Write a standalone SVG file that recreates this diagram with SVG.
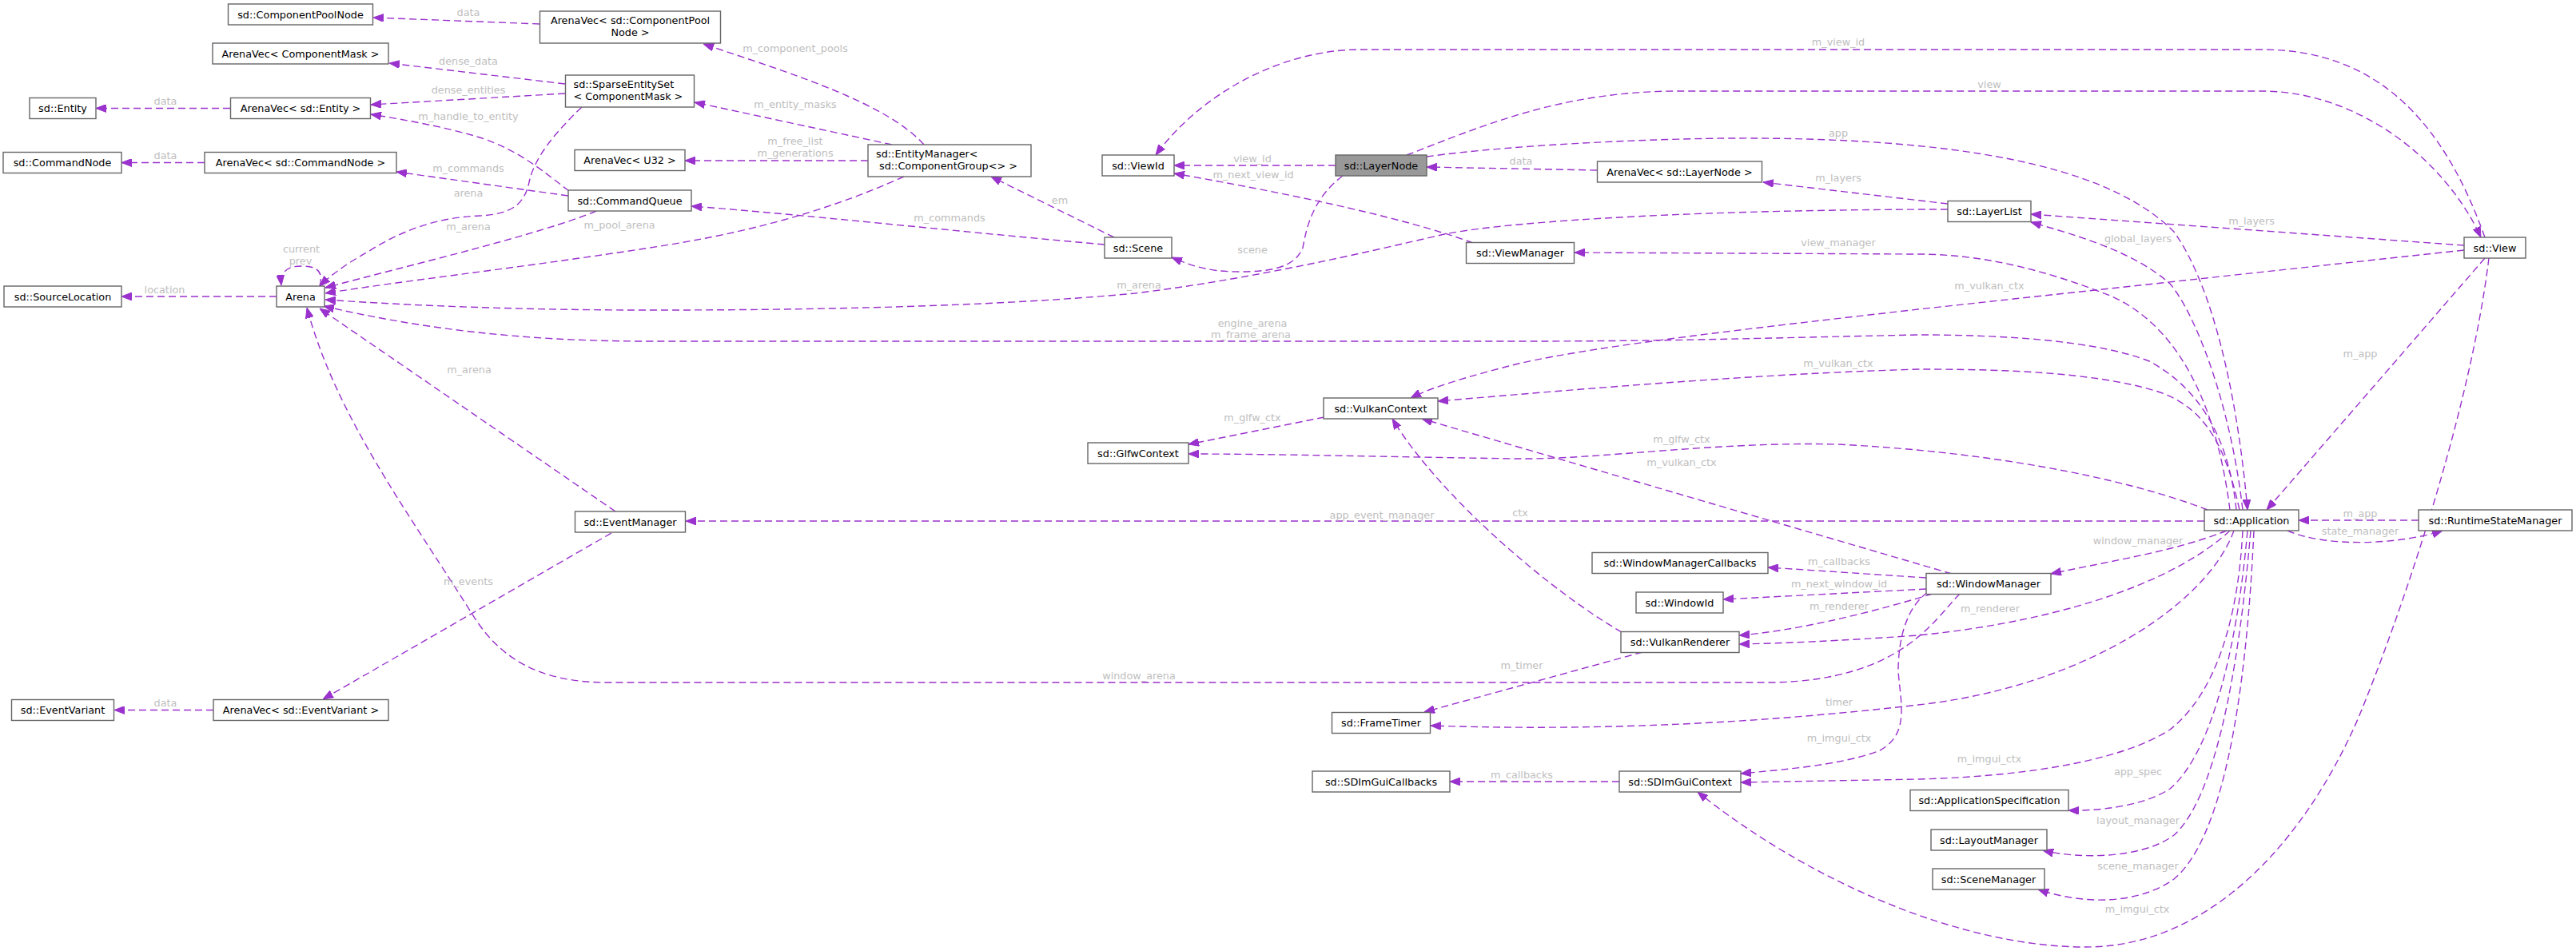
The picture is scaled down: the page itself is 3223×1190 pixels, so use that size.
<svg xmlns="http://www.w3.org/2000/svg" width="3223" height="1190" viewBox="0 0 3223 1190">
<defs>
<marker id="ah" viewBox="0 0 13 10" refX="13" refY="5" markerWidth="13" markerHeight="10" markerUnits="userSpaceOnUse" orient="auto">
<path d="M0,0 L13,5 L0,10 z" fill="#9a32cd" stroke="#9a32cd" stroke-width="1"/>
</marker>
<style>
.n rect{fill:#ffffff;stroke:#666666;stroke-width:1.4}
.n text{font-family:"DejaVu Sans",sans-serif;font-size:12.8px;fill:#000000;text-anchor:middle}
.n text.la{text-anchor:start}
#n_layernode rect{fill:#999999}
.e{fill:none;stroke:#9a32cd;stroke-width:1.4;stroke-dasharray:9,5;marker-end:url(#ah)}
.l{font-family:"DejaVu Sans",sans-serif;font-size:12.8px;fill:#bebebe;text-anchor:middle}
</style>
</defs>
<rect width="3223" height="1190" fill="#ffffff"/>
<g id="connectors">
<path class="e" d="M675,30 L467,22"/><text class="l" x="586" y="20">data</text>
<path class="e" d="M707,105 L487,79"/><text class="l" x="586" y="81">dense_data</text>
<path class="e" d="M707,117 L464,131"/><text class="l" x="586" y="117">dense_entities</text>
<path class="e" d="M288,135.5 L120,135.5"/><text class="l" x="207" y="131">data</text>
<path class="e" d="M712,239 C680,215 650,188 600,172 C555,158 500,149 464,143"/><text class="l" x="586" y="150">m_handle_to_entity</text>
<path class="e" d="M256,203.5 L152,203.5"/><text class="l" x="207" y="199">data</text>
<path class="e" d="M711,245 L496,215"/><text class="l" x="586" y="215">m_commands</text>
<path class="e" d="M728,134 C690,170 668,200 662,228 C656,256 640,268 600,270 C545,272 500,290 462,314 C430,332 412,346 400,358"/><text class="l" x="586" y="246">arena</text>
<path class="e" d="M746,264 C680,292 520,330 407,360"/><text class="l" x="586" y="288">m_arena</text>
<path class="e" d="M1131,221 C1000,280 880,300 800,312 C650,335 500,352 407,367"/><text class="l" x="775" y="286">m_pool_arena</text>
<path class="e" d="M2437,262 C2150,262 1900,275 1807,293 C1700,318 1560,350 1420,367 C1200,388 900,388 810,388 C620,388 480,380 407,375"/><text class="l" x="1425" y="361">m_arena</text>
<path class="e" d="M2798,638 C2790,560 2760,490 2689,452 C2620,425 2500,419 2400,419 C2200,423 2100,427 1900,427 L810,427 C650,427 520,410 405,383"/><text class="l" x="1567" y="409">engine_arena</text><text class="l" x="1565" y="423">m_frame_arena</text>
<path class="e" d="M2452,743 C2420,775 2380,850 2220,854 L760,854 C670,854 625,820 595,775 C510,640 420,520 384,385"/><text class="l" x="1425" y="850">window_arena</text>
<path class="e" d="M770,640 L400,386"/><text class="l" x="587" y="467">m_arena</text>
<path class="e" d="M765,667 L404,875"/><text class="l" x="586" y="732">m_events</text>
<path class="e" d="M267,888.5 L143,888.5"/><text class="l" x="207" y="884">data</text>
<path class="e" d="M400,358 C406,336 392,333 377,333 C362,333 350,338 352,357"/><text class="l" x="377" y="316">current</text><text class="l" x="376" y="331">prev</text>
<path class="e" d="M346,371 L152,371"/><text class="l" x="206" y="367">location</text>
<path class="e" d="M1156,181 C1110,130 1000,95 880,55"/><text class="l" x="995" y="65">m_component_pools</text>
<path class="e" d="M1116,181 L869,128"/><text class="l" x="995" y="135">m_entity_masks</text>
<path class="e" d="M1086,201 L857,201"/><text class="l" x="995" y="181">m_free_list</text><text class="l" x="995" y="196">m_generations</text>
<path class="e" d="M1394,297 L1240,221"/><text class="l" x="1326" y="255">em</text>
<path class="e" d="M1382,306 C1200,290 1000,268 865,258"/><text class="l" x="1188" y="277">m_commands</text>
<path class="e" d="M1671,207 L1469,207"/><text class="l" x="1567" y="203">view_id</text>
<path class="e" d="M1843,304 C1750,270 1600,240 1469,217"/><text class="l" x="1568" y="223">m_next_view_id</text>
<path class="e" d="M1680,220 C1640,250 1634,290 1630,310 C1620,335 1590,340 1550,340 C1510,340 1490,332 1466,322"/><text class="l" x="1567" y="317">scene</text>
<path class="e" d="M3109,297 C3060,160 2980,62 2830,62 L1703,62 C1600,62 1500,120 1446,194"/><text class="l" x="2300" y="57">m_view_id</text>
<path class="e" d="M1760,194 C1850,160 1950,114 2100,114 L2830,114 C2950,114 3060,200 3104,297"/><text class="l" x="2489" y="110">view</text>
<path class="e" d="M1785,196 C1900,180 2100,172 2200,173 C2500,175 2650,220 2720,290 C2770,360 2800,500 2812,638"/><text class="l" x="2300" y="171">app</text>
<path class="e" d="M1998,213 L1785,209"/><text class="l" x="1903" y="206">data</text>
<path class="e" d="M2437,255 L2206,228"/><text class="l" x="2300" y="227">m_layers</text>
<path class="e" d="M3083,307 L2541,268"/><text class="l" x="2817" y="281">m_layers</text>
<path class="e" d="M2806,638 C2790,500 2745,390 2715,355 C2670,315 2600,295 2541,278"/><text class="l" x="2675" y="303">global_layers</text>
<path class="e" d="M2790,638 C2770,480 2710,400 2640,370 C2560,338 2480,318 2400,318 L1970,316"/><text class="l" x="2300" y="308">view_manager</text>
<path class="e" d="M3083,313 L2400,387 C2200,410 2000,432 1900,455 C1840,470 1790,485 1765,498"/><text class="l" x="2489" y="362">m_vulkan_ctx</text>
<path class="e" d="M3109,323 L2836,638"/><text class="l" x="2953" y="447">m_app</text>
<path class="e" d="M3114,323 C3090,520 3000,780 2950,900 C2880,1060 2760,1185 2610,1185 C2450,1185 2260,1100 2124,991"/><text class="l" x="2674" y="1142">m_imgui_ctx</text>
<path class="e" d="M3026,651 L2876,651"/><text class="l" x="2953" y="647">m_app</text>
<path class="e" d="M2862,664 C2910,685 3000,682 3056,664"/><text class="l" x="2953" y="669">state_manager</text>
<path class="e" d="M2786,664 C2720,690 2650,700 2566,718"/><text class="l" x="2675" y="681">window_manager</text>
<path class="e" d="M2758,652 L858,652"/><text class="l" x="1729" y="649">app_event_manager</text>
<path class="e" d="M2762,638 C2650,595 2480,565 2300,556 C2150,552 2000,575 1900,574 C1750,572 1600,568 1487,568"/><text class="l" x="2104" y="554">m_glfw_ctx</text>
<path class="e" d="M1657,522 L1487,556"/><text class="l" x="1567" y="527">m_glfw_ctx</text>
<path class="e" d="M2802,638 C2785,560 2760,510 2700,490 C2620,465 2500,462 2400,462 C2200,468 2000,485 1799,502"/><text class="l" x="2300" y="459">m_vulkan_ctx</text>
<path class="e" d="M2442,718 L1779,524"/><text class="l" x="2104" y="583">m_vulkan_ctx</text>
<path class="e" d="M2029,791 C1940,740 1800,620 1742,524"/><text class="l" x="1902" y="646">ctx</text>
<path class="e" d="M2410,723 L2212,710"/><text class="l" x="2301" y="707">m_callbacks</text>
<path class="e" d="M2410,737 L2156,750"/><text class="l" x="2301" y="735">m_next_window_id</text>
<path class="e" d="M2418,743 C2330,770 2240,790 2176,795"/><text class="l" x="2301" y="763">m_renderer</text>
<path class="e" d="M2790,664 C2730,720 2600,775 2400,795 C2300,802 2230,805 2176,806"/><text class="l" x="2490" y="766">m_renderer</text>
<path class="e" d="M2412,741 C2385,760 2375,800 2375,840 C2378,880 2390,920 2350,940 C2300,958 2230,963 2178,968"/><text class="l" x="2301" y="928">m_imgui_ctx</text>
<path class="e" d="M2055,816 L1782,891"/><text class="l" x="1904" y="837">m_timer</text>
<path class="e" d="M2795,664 C2760,760 2600,860 2400,882 C2200,905 2000,915 1790,908"/><text class="l" x="2301" y="883">timer</text>
<path class="e" d="M2806,664 C2800,780 2770,870 2715,913 C2650,955 2520,972 2400,975 L2178,979"/><text class="l" x="2489" y="954">m_imgui_ctx</text>
<path class="e" d="M2026,978 L1814,978"/><text class="l" x="1904" y="974">m_callbacks</text>
<path class="e" d="M2812,664 C2800,800 2770,940 2715,987 C2680,1010 2620,1015 2588,1014"/><text class="l" x="2675" y="970">app_spec</text>
<path class="e" d="M2816,664 C2800,850 2770,1000 2720,1045 C2680,1075 2600,1075 2556,1064"/><text class="l" x="2675" y="1031">layout_manager</text>
<path class="e" d="M2820,664 C2810,880 2780,1050 2720,1100 C2670,1135 2600,1130 2550,1113"/><text class="l" x="2675" y="1088">scene_manager</text>
</g>
<g id="n_cpn" class="n"><rect x="285.5" y="5" width="181" height="26"/><text x="376" y="22.5">sd::ComponentPoolNode</text></g>
<g id="n_avcpn" class="n"><rect x="675.5" y="14" width="226" height="40"/><text x="788.5" y="30">ArenaVec&lt; sd::ComponentPool</text><text x="788.5" y="44.5">Node &gt;</text></g>
<g id="n_avcm" class="n"><rect x="266" y="54" width="220" height="26"/><text x="376" y="71.5">ArenaVec&lt; ComponentMask &gt;</text></g>
<g id="n_ses" class="n"><rect x="707.5" y="94" width="161" height="40"/><text class="la" x="717.5" y="110">sd::SparseEntitySet</text><text class="la" x="717.5" y="124.5">&lt; ComponentMask &gt;</text></g>
<g id="n_ent" class="n"><rect x="37" y="122.5" width="83" height="26"/><text x="78.5" y="140">sd::Entity</text></g>
<g id="n_ave" class="n"><rect x="288.5" y="122.5" width="175" height="26"/><text x="376" y="140">ArenaVec&lt; sd::Entity &gt;</text></g>
<g id="n_cn" class="n"><rect x="4" y="190.5" width="148" height="26"/><text x="78" y="208">sd::CommandNode</text></g>
<g id="n_avcn" class="n"><rect x="256" y="190.5" width="240" height="26"/><text x="376" y="208">ArenaVec&lt; sd::CommandNode &gt;</text></g>
<g id="n_u32" class="n"><rect x="719" y="187.5" width="138" height="26"/><text x="788" y="205">ArenaVec&lt; U32 &gt;</text></g>
<g id="n_em" class="n"><rect x="1086" y="181" width="204" height="40"/><text class="la" x="1096" y="197">sd::EntityManager&lt;</text><text class="la" x="1100" y="211.5">sd::ComponentGroup&lt;&gt; &gt;</text></g>
<g id="n_cq" class="n"><rect x="711" y="238" width="154" height="26"/><text x="788" y="255.5">sd::CommandQueue</text></g>
<g id="n_arena" class="n"><rect x="346" y="358" width="60" height="26"/><text x="376" y="375.5">Arena</text></g>
<g id="n_sl" class="n"><rect x="5" y="358" width="147" height="26"/><text x="78.5" y="375.5">sd::SourceLocation</text></g>
<g id="n_viewid" class="n"><rect x="1379" y="194" width="90" height="26"/><text x="1424" y="211.5">sd::ViewId</text></g>
<g id="n_layernode" class="n"><rect x="1671" y="194" width="114" height="26"/><text x="1728" y="211.5">sd::LayerNode</text></g>
<g id="n_avln" class="n"><rect x="1998.5" y="202" width="206" height="26"/><text x="2101.5" y="219.5">ArenaVec&lt; sd::LayerNode &gt;</text></g>
<g id="n_scene" class="n"><rect x="1382" y="297" width="84" height="26"/><text x="1424" y="314.5">sd::Scene</text></g>
<g id="n_vm" class="n"><rect x="1834.5" y="303.5" width="135" height="26"/><text x="1902" y="321">sd::ViewManager</text></g>
<g id="n_ll" class="n"><rect x="2437" y="251.5" width="104" height="26"/><text x="2489" y="269">sd::LayerList</text></g>
<g id="n_view" class="n"><rect x="3083" y="297" width="77" height="26"/><text x="3121.5" y="314.5">sd::View</text></g>
<g id="n_vc" class="n"><rect x="1656" y="498" width="143" height="26"/><text x="1727.5" y="515.5">sd::VulkanContext</text></g>
<g id="n_glfw" class="n"><rect x="1361" y="554" width="126" height="26"/><text x="1424" y="571.5">sd::GlfwContext</text></g>
<g id="n_evm" class="n"><rect x="719.5" y="640" width="138" height="26"/><text x="788.5" y="657.5">sd::EventManager</text></g>
<g id="n_app" class="n"><rect x="2758" y="638" width="118" height="26"/><text x="2817" y="655.5">sd::Application</text></g>
<g id="n_rsm" class="n"><rect x="3026" y="638" width="192" height="26"/><text x="3122" y="655.5">sd::RuntimeStateManager</text></g>
<g id="n_wmc" class="n"><rect x="1992" y="691.5" width="220" height="26"/><text x="2102" y="709">sd::WindowManagerCallbacks</text></g>
<g id="n_wm" class="n"><rect x="2410" y="717.5" width="156" height="26"/><text x="2488" y="735">sd::WindowManager</text></g>
<g id="n_wid" class="n"><rect x="2047" y="741" width="109" height="26"/><text x="2101.5" y="758.5">sd::WindowId</text></g>
<g id="n_vr" class="n"><rect x="2028" y="790.5" width="148" height="26"/><text x="2102" y="808">sd::VulkanRenderer</text></g>
<g id="n_ev" class="n"><rect x="14.5" y="875.5" width="128" height="26"/><text x="78.5" y="893">sd::EventVariant</text></g>
<g id="n_avev" class="n"><rect x="267" y="875.5" width="219" height="26"/><text x="376.5" y="893">ArenaVec&lt; sd::EventVariant &gt;</text></g>
<g id="n_ft" class="n"><rect x="1666.5" y="891.5" width="123" height="26"/><text x="1728" y="909">sd::FrameTimer</text></g>
<g id="n_sdcb" class="n"><rect x="1642" y="965" width="172" height="26"/><text x="1728" y="982.5">sd::SDImGuiCallbacks</text></g>
<g id="n_sdctx" class="n"><rect x="2026" y="965" width="152" height="26"/><text x="2102" y="982.5">sd::SDImGuiContext</text></g>
<g id="n_appspec" class="n"><rect x="2390" y="988.5" width="198" height="26"/><text x="2489" y="1006">sd::ApplicationSpecification</text></g>
<g id="n_lm" class="n"><rect x="2416" y="1038" width="145" height="26"/><text x="2488.5" y="1055.5">sd::LayoutManager</text></g>
<g id="n_sm" class="n"><rect x="2418" y="1087" width="140" height="26"/><text x="2488" y="1104.5">sd::SceneManager</text></g>
</svg>
